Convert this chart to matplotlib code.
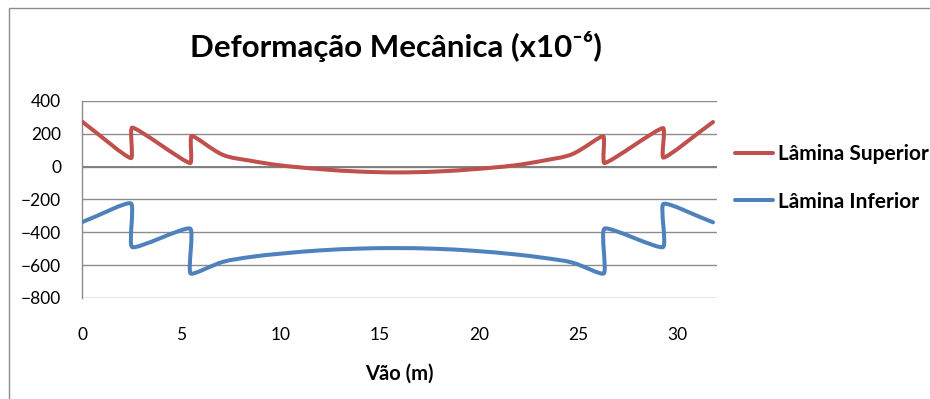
import math
import matplotlib
matplotlib.use("Agg")
import matplotlib.pyplot as plt
from matplotlib.path import Path
from matplotlib.patches import PathPatch, Rectangle
from matplotlib.lines import Line2D

# Strain along the span (x10^-6)
vao_superior = [0, 2.47, 2.53, 5.45, 5.52, 7.1, 8.5, 10, 12, 14, 15.9,
                17.8, 19.8, 21.8, 23.3, 24.7, 26.27, 26.33, 29.28, 29.3, 31.8]
lamina_superior = [275, 52, 238, 22, 187, 72, 36, 8, -15, -30, -35,
                   -30, -15, 8, 38, 76, 185, 22, 235, 55, 272]

vao_inferior = [0, 2.47, 2.53, 5.45, 5.47, 7.1, 8.5, 10, 12, 14, 15.9,
                17.8, 19.8, 21.8, 23.3, 24.7, 26.3, 26.33, 29.28, 29.3, 31.8]
lamina_inferior = [-338, -224, -490, -377, -650, -580, -550, -530, -510, -499, -496,
                   -500, -513, -534, -556, -584, -650, -377, -490, -227, -339]

series_names = ["Lâmina Superior", "Lâmina Inferior"]
series_colors = ["#C0504D", "#4F81BD"]

x_ticks = [0, 5, 10, 15, 20, 25, 30]
y_ticks = [-800, -600, -400, -200, 0, 200, 400]
x_range = (0, 32)
y_range = (-800, 400)

FONT = ["Lato", "DejaVu Sans"]
plt.rcParams["font.family"] = FONT

W, H = 930, 399
AX_LEFT, AX_RIGHT, AX_TOP, AX_BOTTOM = 82, 717, 101, 298
STEP_TENSION = 0.5   # tighter smoothing at the ends of a vertical step
STEP_DX = 0.2


def smooth_path(xs, ys, sx, sy):
    """Smoothed line as cubic Bezier segments, with tangents scaled by the
    on-screen chord lengths so short vertical steps stay tight."""
    pts = list(zip(xs, ys))
    n = len(pts)

    def dist(a, b):
        return math.hypot((b[0] - a[0]) * sx, (b[1] - a[1]) * sy)

    def tension(j):
        near = [k for k in (j - 1, j + 1) if 0 <= k < n]
        if any(abs(xs[k] - xs[j]) < STEP_DX for k in near):
            return STEP_TENSION
        return 1.0

    verts = [pts[0]]
    codes = [Path.MOVETO]
    for i in range(n - 1):
        p0 = pts[i - 1] if i > 0 else pts[i]
        p1 = pts[i]
        p2 = pts[i + 1]
        p3 = pts[i + 2] if i + 2 < n else pts[i + 1]
        d01, d12, d23 = dist(p0, p1), dist(p1, p2), dist(p2, p3)
        k1 = tension(i) * d12 / (d01 + d12) / 3.0 if d01 + d12 > 0 else 0
        k2 = tension(i + 1) * d12 / (d12 + d23) / 3.0 if d12 + d23 > 0 else 0
        c1 = (p1[0] + (p2[0] - p0[0]) * k1, p1[1] + (p2[1] - p0[1]) * k1)
        c2 = (p2[0] - (p3[0] - p1[0]) * k2, p2[1] - (p3[1] - p1[1]) * k2)
        verts += [c1, c2, p2]
        codes += [Path.CURVE4] * 3
    return Path(verts, codes)


fig = plt.figure(figsize=(W / 100, H / 100), dpi=100)

# outer chart frame
fig.patches.append(Rectangle((9 / W, -0.1), 1.2, 1 - 8 / H + 0.1,
                             transform=fig.transFigure, fill=False,
                             edgecolor="#8C8C8C", lw=1.0))

ax = fig.add_axes([AX_LEFT / W, 1 - AX_BOTTOM / H,
                   (AX_RIGHT - AX_LEFT) / W, (AX_BOTTOM - AX_TOP) / H])
ax.set_xlim(*x_range)
ax.set_ylim(*y_range)
ax.set_xticks(x_ticks)
ax.set_yticks(y_ticks)
ax.grid(axis="y", color="#8C8C8C", lw=1.0)
ax.set_axisbelow(True)
for side in ("top", "right", "bottom"):
    ax.spines[side].set_visible(False)
ax.spines["left"].set_color("#8C8C8C")
ax.spines["left"].set_linewidth(1.0)
ax.axhline(0, color="#7F7F7F", lw=1.4, zorder=1)

ax.tick_params(axis="y", length=0, pad=15, labelsize=12.5)
ax.tick_params(axis="x", length=0, pad=21, labelsize=12.5)

sx = (AX_RIGHT - AX_LEFT) / (x_range[1] - x_range[0])
sy = (AX_BOTTOM - AX_TOP) / (y_range[1] - y_range[0])

handles = []
for xs, ys, name, color in zip([vao_superior, vao_inferior],
                               [lamina_superior, lamina_inferior],
                               series_names, series_colors):
    patch = PathPatch(smooth_path(xs, ys, sx, sy), fill=False, edgecolor=color,
                      lw=2.9, capstyle="round", joinstyle="round", zorder=3)
    ax.add_patch(patch)
    handles.append(Line2D([], [], color=color, lw=2.9, solid_capstyle="round"))

ax.set_xlabel("Vão (m)", fontsize=14.5, fontweight="bold", labelpad=15)

fig.text(396 / W, 1 - 47 / H, "Deformação Mecânica (x10⁻⁶)", ha="center", va="center",
         fontsize=22.5, fontweight="bold")

fig.legend(handles, series_names, loc="center left",
           bbox_to_anchor=(735 / W, 1 - 178 / H), frameon=False,
           borderpad=0, borderaxespad=0,
           prop={"weight": "bold", "size": 15},
           handlelength=1.83, handletextpad=0.24, labelspacing=1.3)

fig.savefig("out.png", dpi=100)
